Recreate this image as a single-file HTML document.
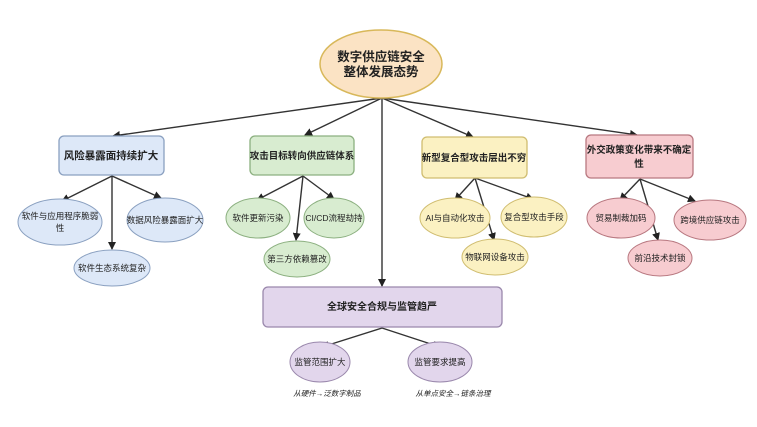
<!DOCTYPE html>
<html><head><meta charset="utf-8"><style>
body{margin:0;background:#fff;}
svg text{font-family:"Liberation Sans","Noto Sans CJK SC",sans-serif;fill:#222;}
</style></head><body>
<svg width="757" height="422" viewBox="0 0 757 422" xmlns="http://www.w3.org/2000/svg">
<defs><marker id="a" markerWidth="8" markerHeight="8" refX="7" refY="4" orient="auto" markerUnits="userSpaceOnUse"><path d="M0,0 L8,4 L0,8 z" fill="#222"/></marker></defs>
<g stroke="#333" stroke-width="1.4" fill="none" marker-end="url(#a)">
<line x1="382" y1="98" x2="113" y2="136"/>
<line x1="382" y1="98" x2="305" y2="135"/>
<line x1="382" y1="98" x2="382" y2="286"/>
<line x1="382" y1="98" x2="473" y2="137"/>
<line x1="382" y1="98" x2="637" y2="135"/>
<line x1="112" y1="176" x2="62" y2="201"/>
<line x1="112" y1="176" x2="112" y2="249"/>
<line x1="112" y1="176" x2="161" y2="198"/>
<line x1="303" y1="176" x2="257" y2="200"/>
<line x1="303" y1="176" x2="296" y2="240"/>
<line x1="303" y1="176" x2="334" y2="199"/>
<line x1="475" y1="178" x2="455" y2="200"/>
<line x1="475" y1="178" x2="494" y2="240"/>
<line x1="475" y1="178" x2="533" y2="199"/>
<line x1="640" y1="179" x2="620" y2="200"/>
<line x1="640" y1="179" x2="658" y2="240"/>
<line x1="640" y1="179" x2="695" y2="201"/>
<line x1="382" y1="328" x2="322" y2="347"/>
<line x1="382" y1="328" x2="440" y2="347"/>
</g>
<ellipse cx="381" cy="64" rx="61" ry="34" fill="#fbe3c4" stroke="#d8b85a" stroke-width="1.5"/>
<text x="381" y="61" font-size="12.5" font-weight="bold" text-anchor="middle">数字供应链安全</text>
<text x="381" y="76" font-size="12.5" font-weight="bold" text-anchor="middle">整体发展态势</text>
<rect x="59" y="136" width="105" height="39" rx="5" fill="#dde8f8" stroke="#8aa0c0" stroke-width="1.3"/>
<text x="111" y="159" font-size="10.5" font-weight="bold" text-anchor="middle">风险暴露面持续扩大</text>
<rect x="250" y="136" width="104" height="39" rx="5" fill="#d8ecd0" stroke="#8cb080" stroke-width="1.3"/>
<text x="302" y="159" font-size="9.5" font-weight="bold" text-anchor="middle">攻击目标转向供应链体系</text>
<rect x="422" y="137" width="105" height="41" rx="5" fill="#fbf1c2" stroke="#d0bd70" stroke-width="1.3"/>
<text x="474" y="161" font-size="9.5" font-weight="bold" text-anchor="middle">新型复合型攻击层出不穷</text>
<rect x="586" y="135" width="107" height="43" rx="5" fill="#f7ccd0" stroke="#b87880" stroke-width="1.3"/>
<text x="639" y="153" font-size="9.5" font-weight="bold" text-anchor="middle">外交政策变化带来不确定</text>
<text x="639" y="167" font-size="9.5" font-weight="bold" text-anchor="middle">性</text>
<rect x="263" y="287" width="239" height="40" rx="5" fill="#e2d6ec" stroke="#9a88ac" stroke-width="1.3"/>
<text x="382" y="310" font-size="10" font-weight="bold" text-anchor="middle">全球安全合规与监管趋严</text>
<g font-size="8.5" text-anchor="middle">
<ellipse cx="60" cy="222" rx="42" ry="23" fill="#dde8f8" stroke="#8aa0c0"/>
<text x="60" y="219">软件与应用程序脆弱</text><text x="60" y="231">性</text>
<ellipse cx="165" cy="220" rx="38" ry="22" fill="#dde8f8" stroke="#8aa0c0"/>
<text x="165" y="223">数据风险暴露面扩大</text>
<ellipse cx="112" cy="268" rx="38" ry="18" fill="#dde8f8" stroke="#8aa0c0"/>
<text x="112" y="271">软件生态系统复杂</text>
<ellipse cx="258" cy="218" rx="32" ry="20" fill="#d8ecd0" stroke="#8cb080"/>
<text x="258" y="221">软件更新污染</text>
<ellipse cx="334" cy="218" rx="30" ry="20" fill="#d8ecd0" stroke="#8cb080"/>
<text x="334" y="221">CI/CD流程劫持</text>
<ellipse cx="297" cy="259" rx="33" ry="18" fill="#d8ecd0" stroke="#8cb080"/>
<text x="297" y="262">第三方依赖篡改</text>
<ellipse cx="455" cy="218" rx="35" ry="20" fill="#fbf1c2" stroke="#d0bd70"/>
<text x="455" y="221">AI与自动化攻击</text>
<ellipse cx="534" cy="217" rx="33" ry="20" fill="#fbf1c2" stroke="#d0bd70"/>
<text x="534" y="220">复合型攻击手段</text>
<ellipse cx="495" cy="257" rx="33" ry="18" fill="#fbf1c2" stroke="#d0bd70"/>
<text x="495" y="260">物联网设备攻击</text>
<ellipse cx="621" cy="218" rx="34" ry="20" fill="#f7ccd0" stroke="#b87880"/>
<text x="621" y="221">贸易制裁加码</text>
<ellipse cx="710" cy="220" rx="36" ry="20" fill="#f7ccd0" stroke="#b87880"/>
<text x="710" y="223">跨境供应链攻击</text>
<ellipse cx="660" cy="258" rx="32" ry="18" fill="#f7ccd0" stroke="#b87880"/>
<text x="660" y="261">前沿技术封锁</text>
<ellipse cx="320" cy="362" rx="30" ry="20" fill="#e2d6ec" stroke="#9a88ac"/>
<text x="320" y="365">监管范围扩大</text>
<ellipse cx="440" cy="362" rx="32" ry="20" fill="#e2d6ec" stroke="#9a88ac"/>
<text x="440" y="365">监管要求提高</text>
</g>
<text x="327" y="396" font-size="7.5" font-style="italic" text-anchor="middle">从硬件→泛数字制品</text>
<text x="453" y="396" font-size="7.5" font-style="italic" text-anchor="middle">从单点安全→链条治理</text>
</svg>
</body></html>
